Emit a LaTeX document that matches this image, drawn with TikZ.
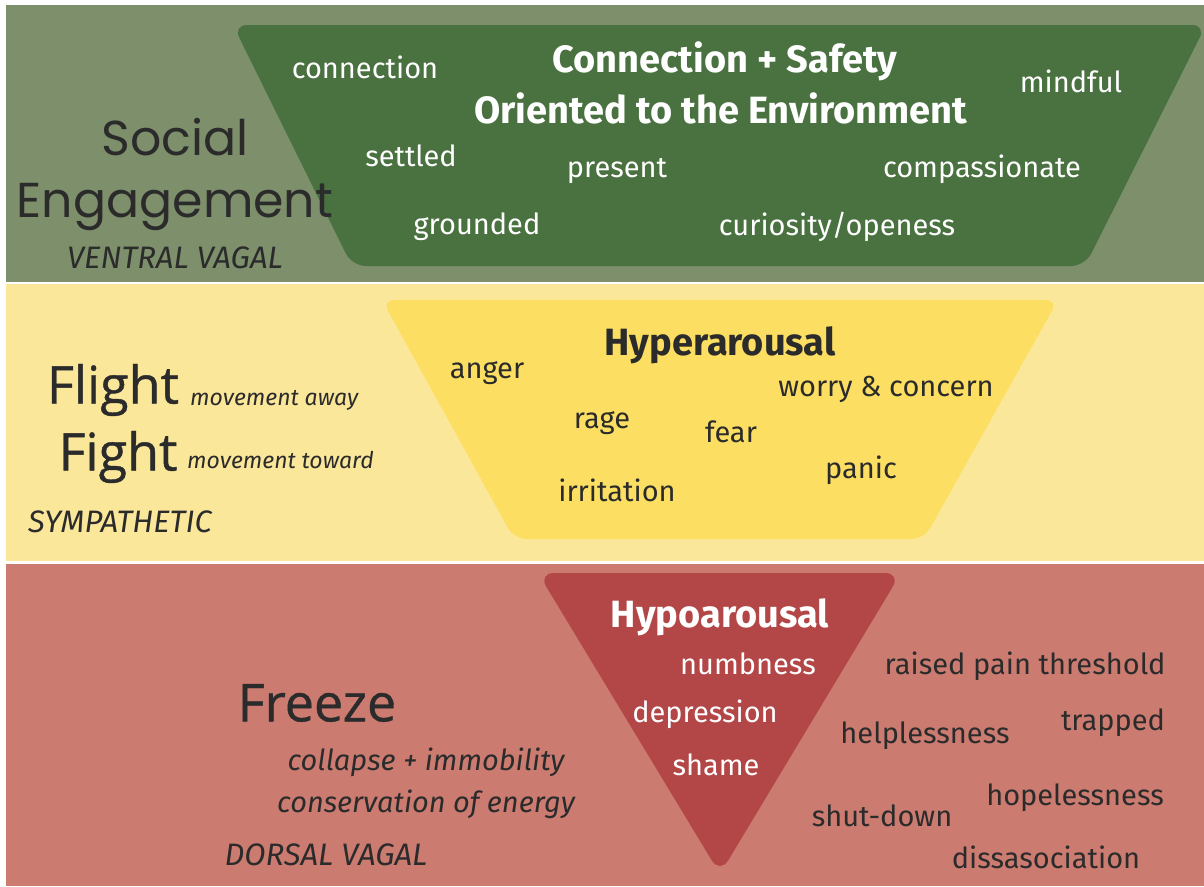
\documentclass[tikz,border=0pt]{standalone}
\usepackage{fontspec}
\setmainfont{Fira Sans}
\newfontfamily\fira{Fira Sans}
\newfontfamily\pop{Poppins}
\newfontfamily\osans[FakeBold=0.8]{Open Sans}
\definecolor{bandG}{HTML}{7D8F6B}
\definecolor{trapG}{HTML}{4A7140}
\definecolor{bandY}{HTML}{FBE79A}
\definecolor{trapY}{HTML}{FCDF62}
\definecolor{bandR}{HTML}{CB7B70}
\definecolor{triR}{HTML}{B34646}
\definecolor{ink}{HTML}{2B2B2B}
\tikzset{
  word/.style={inner sep=0pt, anchor=center, font=\fira\fontsize{29}{29}\selectfont},
  wW/.style={word, text=white},
  wD/.style={word, text=ink},
  head/.style={inner sep=0pt, anchor=center, font=\fira\bfseries\fontsize{38}{38}\selectfont},
  big/.style={inner sep=0pt, anchor=center, text=ink},
  caps/.style={inner sep=0pt, anchor=center, text=ink, font=\fira\itshape\fontsize{31}{31}\selectfont},
  sub/.style={inner sep=0pt, anchor=center, text=ink, font=\fira\itshape\fontsize{29}{29}\selectfont},
  small/.style={inner sep=0pt, anchor=west, text=ink, font=\fira\itshape\fontsize{23}{23}\selectfont},
}
\begin{document}
\begin{tikzpicture}[x=1pt,y=-1pt]
\useasboundingbox (0,0) rectangle (1204,886);
\fill[white] (0,0) rectangle (1204,886);
% bands
\fill[bandG] (6,5) rectangle (1204,282);
\fill[bandY] (6,284) rectangle (1204,561);
\fill[bandR] (6,564) rectangle (1204,886);
% shapes
\fill[trapG, rounded corners=14pt] (233,25) -- (1206,25) -- (1085,266) -- (352,266) -- cycle;
\fill[trapY, rounded corners=12pt] (382,300) -- (1058,300) -- (924,539) -- (514,539) -- cycle;
\fill[triR, rounded corners=16pt] (538,573) -- (901,573) -- (720,874) -- cycle;

% ---- green band texts
\node[big, font=\pop\fontsize{49}{49}\selectfont] (social) at (175,137) {Social};
\node[big, font=\pop\fontsize{49}{49}\selectfont] (engage) at (175,207) {Engagement};
\node[caps] (ventral) at (175,258) {VENTRAL VAGAL};

\node[head, text=white] (cs) at (725,61) {Connection + Safety};
\node[head, text=white] (ote) at (721,108) {Oriented to the Environment};
\node[wW] (connection) at (365,67) {connection};
\node[wW] (mindful) at (1071,81) {mindful};
\node[wW] (settled) at (411,156) {settled};
\node[wW] (present) at (617,171) {present};
\node[wW] (compassionate) at (982,169) {compassionate};
\node[wW] (grounded) at (477,227) {grounded};
\node[wW] (curiosity) at (837,227) {curiosity/openess};

% ---- yellow band texts
\node[big, font=\osans\fontsize{52}{52}\selectfont] (flight) at (113,390) {Flight};
\node[big, font=\osans\fontsize{52}{52}\selectfont] (fight) at (118,457) {Fight};
\node[small] (away) at (190,400) {movement away};
\node[small] (toward) at (187,460) {movement toward};
\node[caps] (symp) at (120,522) {SYMPATHETIC};

\node[head, text=ink] (hyper) at (720,345) {Hyperarousal};
\node[wD] (anger) at (487,373) {anger};
\node[wD] (worry) at (886,389) {worry \& concern};
\node[wD] (rage) at (602,423) {rage};
\node[wD] (fear) at (731,432) {fear};
\node[wD] (panic) at (861,470) {panic};
\node[wD] (irritation) at (617,490) {irritation};

% ---- red band texts
\node[big, font=\osans\fontsize{52}{52}\selectfont] (freeze) at (317,703) {Freeze};
\node[sub] (collapse) at (426,762) {collapse + immobility};
\node[sub] (conserv) at (426,804) {conservation of energy};
\node[caps] (dorsal) at (326,855) {DORSAL VAGAL};

\node[head, text=white] (hypo) at (720,617) {Hypoarousal};
\node[wW] (numbness) at (748,664) {numbness};
\node[wW] (depression) at (705,714) {depression};
\node[wW] (shame) at (716,765) {shame};
\node[wD] (pain) at (1025,666) {raised pain threshold};
\node[wD] (trapped) at (1113,723) {trapped};
\node[wD] (helpless) at (925,736) {helplessness};
\node[wD] (hopeless) at (1075,798) {hopelessness};
\node[wD] (shut) at (882,816) {shut-down};
\node[wD] (dissas) at (1046,857) {dissasociation};
\end{tikzpicture}
\end{document}
